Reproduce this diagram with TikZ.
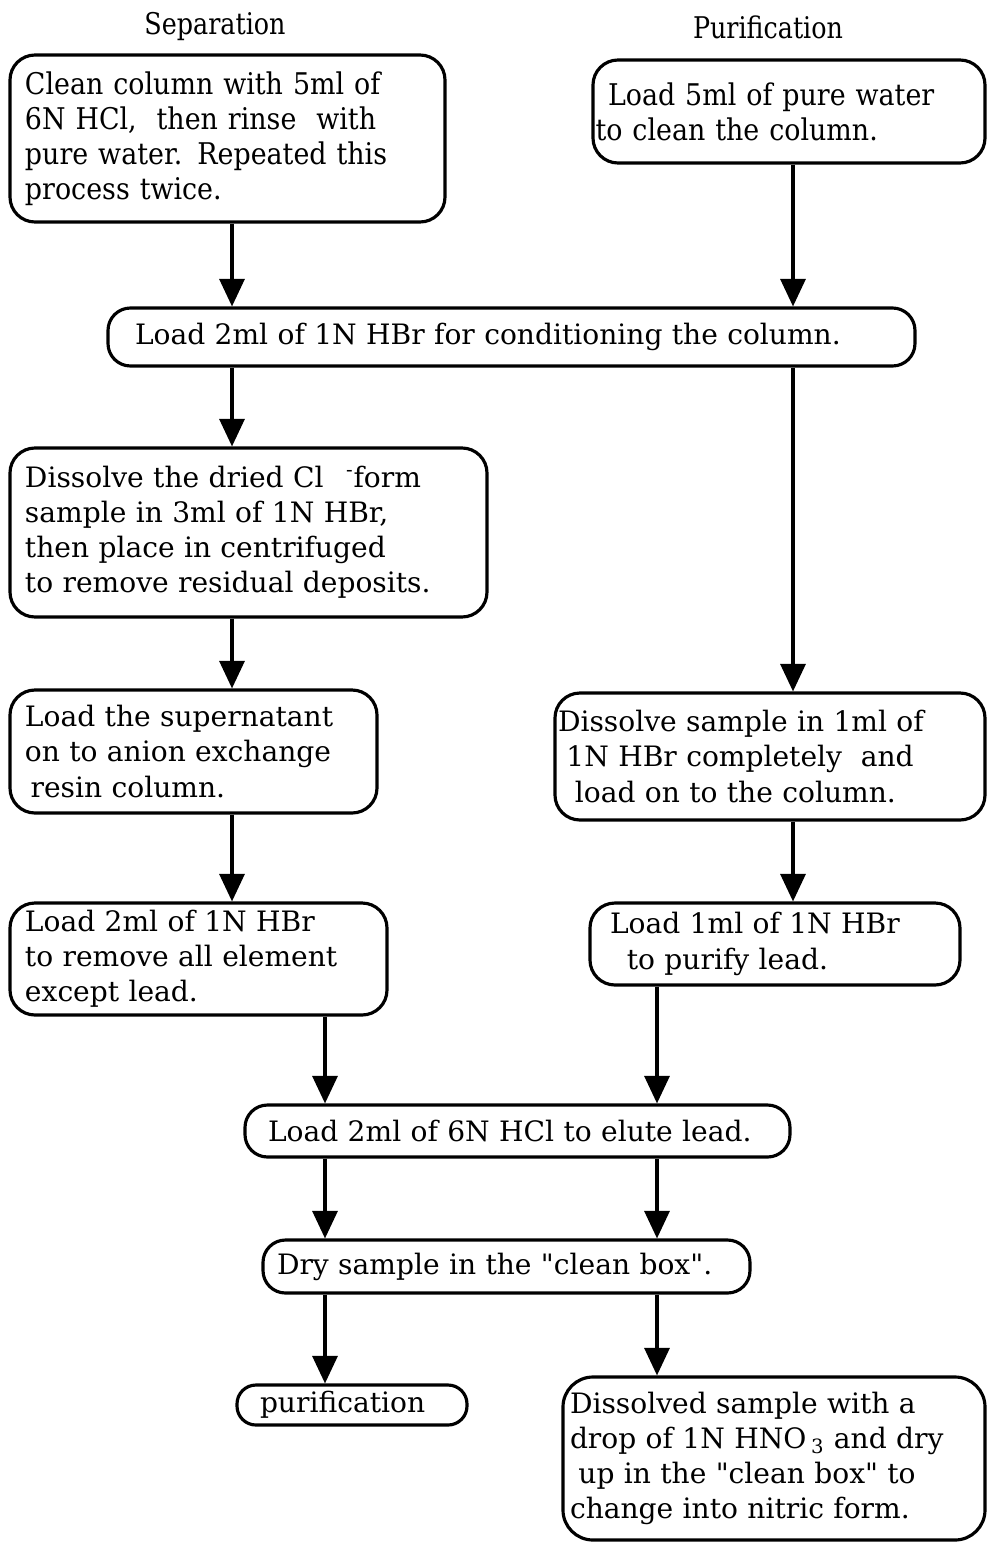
\documentclass[tikz,border=0pt]{standalone}
\usepackage{fontspec}
\setmainfont{DejaVu Serif}
\newfontfamily\narrowserif[FakeStretch=0.9]{DejaVu Serif}
\newfontfamily\headserif[FakeStretch=0.85]{DejaVu Serif}
\usetikzlibrary{arrows.meta}
\begin{document}
\begin{tikzpicture}[font=\fontsize{16}{20}\selectfont,
    >={Triangle[length=5.5mm,width=5mm]},
    box/.style={draw, line width=1.8pt, rounded corners=0.5cm, align=left,
      inner xsep=0.3cm, inner ysep=0pt},
    pill/.style={box, rounded corners=0.45cm},
    narrow/.style={font=\narrowserif\fontsize{17}{20}\selectfont},
    head/.style={font=\headserif\fontsize{17}{20}\selectfont},
    arr/.style={->, line width=1.8pt}]
  \useasboundingbox (0,0) rectangle (19.74,-30.88);
  % column headings
  \node[head] (sephead) at (4.3,-0.54) {Separation};
  \node[head] (purhead) at (15.36,-0.54) {Purification};
  % x positions of the connectors
  \coordinate (xl) at (4.64,0);
  \coordinate (xm) at (6.5,0);
  \coordinate (xn) at (13.14,0);
  \coordinate (xr) at (15.86,0);
  % top row
  \node[box, narrow, text width=8.1cm, minimum height=3.34cm] (clean) at (4.55,-2.77)
    {Clean column with 5ml of\\6N HCl,\ \ then rinse\ \ with\\pure water. Repeated this\\process twice.};
  \node[box, narrow, text width=7.24cm, minimum height=2.06cm] (water) at (15.78,-2.23)
    {Load 5ml of pure water\\\hspace*{-0.25cm}to clean the column.};
  \node[pill, inner xsep=0.54cm, text width=15.06cm, minimum height=1.16cm] (cond) at (10.23,-6.74)
    {Load 2ml of 1N HBr for conditioning the column.};
  % separation column
  \node[box, text width=8.94cm, minimum height=3.38cm] (dissolve) at (4.97,-10.65)
    {Dissolve the dried Cl\hspace{0.8em}\textsuperscript{-}form\\sample in 3ml of 1N HBr,\\then place in centrifuged\\to remove residual deposits.};
  \node[box, text width=6.74cm, minimum height=2.46cm] (super) at (3.87,-15.03)
    {Load the supernatant\\on to anion exchange\\\hspace*{0.2em}resin column.};
  \node[box, text width=6.94cm, minimum height=2.24cm] (remove) at (3.97,-19.18)
    {Load 2ml of 1N HBr\\to remove all element\\except lead.};
  % purification column
  \node[box, inner xsep=0.06cm, text width=8.48cm, minimum height=2.54cm] (sample) at (15.4,-15.13)
    {Dissolve sample in 1ml of\\\hspace*{0.3em}1N HBr completely\ \ and\\\hspace*{0.6em}load on to the column.};
  \node[box, inner xsep=0.4cm, text width=6.6cm, minimum height=1.64cm] (lead) at (15.5,-18.88)
    {Load 1ml of 1N HBr\\\hspace*{0.6em}to purify lead.};
  % common steps
  \node[pill, inner xsep=0.46cm, text width=9.98cm, minimum height=1.04cm] (elute) at (10.35,-22.62)
    {Load 2ml of 6N HCl to elute lead.};
  \node[pill, inner xsep=0.28cm, text width=9.18cm, minimum height=1.06cm] (dry) at (10.13,-25.33)
    {Dry sample in the \textquotedbl clean box\textquotedbl.};
  \node[pill, rounded corners=0.38cm, inner xsep=0.46cm, text width=3.68cm, minimum height=0.8cm] (pur) at (7.04,-28.1)
    {purification};
  \node[box, rounded corners=0.6cm, inner xsep=0.14cm, text width=8.16cm, minimum height=3.26cm] (nitric) at (15.48,-29.17)
    {Dissolved sample with a\\drop of 1N HNO\,\textsubscript{3} and dry\\\hspace*{0.3em}up in the \textquotedbl clean box\textquotedbl{} to\\change into nitric form.};
  % connectors
  \draw[arr] (clean.south -| xl) -- (cond.north -| xl);
  \draw[arr] (water.south -| xr) -- (cond.north -| xr);
  \draw[arr] (cond.south -| xl) -- (dissolve.north -| xl);
  \draw[arr] (cond.south -| xr) -- (sample.north -| xr);
  \draw[arr] (dissolve.south -| xl) -- (super.north -| xl);
  \draw[arr] (super.south -| xl) -- (remove.north -| xl);
  \draw[arr] (sample.south -| xr) -- (lead.north -| xr);
  \draw[arr] (remove.south -| xm) -- (elute.north -| xm);
  \draw[arr] (lead.south -| xn) -- (elute.north -| xn);
  \draw[arr] (elute.south -| xm) -- (dry.north -| xm);
  \draw[arr] (elute.south -| xn) -- (dry.north -| xn);
  \draw[arr] (dry.south -| xm) -- (pur.north -| xm);
  \draw[arr] (dry.south -| xn) -- (nitric.north -| xn);
\end{tikzpicture}
\end{document}
